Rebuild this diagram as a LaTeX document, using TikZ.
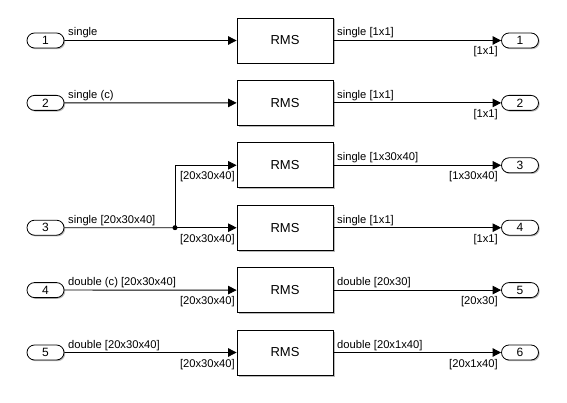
\documentclass[tikz,border=0pt]{standalone}
\usepackage{fontspec}
\setmainfont{Liberation Sans}
\usetikzlibrary{arrows.meta,shapes.misc,shadows}
\begin{document}
\begin{tikzpicture}[x=1pt,y=-1pt,
  blk/.style={draw,line width=0.8pt,fill=white,minimum width=96pt,minimum height=45pt,inner sep=0pt,
    font=\fontsize{13}{15}\selectfont,
    drop shadow={shadow xshift=1.5pt,shadow yshift=-1.5pt,fill=black!45,opacity=0.6}},
  port/.style={rounded rectangle,draw,line width=0.8pt,fill=white,minimum width=37pt,minimum height=15pt,inner sep=0pt,
    font=\fontsize{12}{14}\selectfont,
    drop shadow={shadow xshift=1.2pt,shadow yshift=-1.2pt,fill=black!45,opacity=0.6}},
  sig/.style={line width=0.8pt,-{Triangle[length=8.5pt,width=8.5pt]}},
  wire/.style={line width=0.8pt},
  lbl/.style={font=\fontsize{11.2}{13}\selectfont,inner sep=0pt}
]
\useasboundingbox (0,0) rectangle (567,403);
\fill[white] (0,0) rectangle (567,403);

% row centres
\def\ya{40.5}\def\yb{102.9}\def\yc{165.3}\def\yd{227.7}\def\ye{290.1}\def\yf{352.5}

% inports
\node[port] (i1) at (45.5,\ya) {1};
\node[port] (i2) at (45.5,\yb) {2};
\node[port] (i3) at (45.5,\yd) {3};
\node[port] (i4) at (45.5,\ye) {4};
\node[port] (i5) at (45.5,\yf) {5};

% blocks
\node[blk] (b1) at (285,\ya) {RMS};
\node[blk] (b2) at (285,\yb) {RMS};
\node[blk] (b3) at (285,\yc) {RMS};
\node[blk] (b4) at (285,\yd) {RMS};
\node[blk] (b5) at (285,\ye) {RMS};
\node[blk] (b6) at (285,\yf) {RMS};

% outports
\node[port] (o1) at (520,\ya) {1};
\node[port] (o2) at (520,\yb) {2};
\node[port] (o3) at (520,\yc) {3};
\node[port] (o4) at (520,\yd) {4};
\node[port] (o5) at (520,\ye) {5};
\node[port] (o6) at (520,\yf) {6};

% connectors
\draw[sig] (i1) -- (b1);
\draw[sig] (i2) -- (b2);
\coordinate (br) at (175,\yd);
\draw[wire] (i3) -- (br);
\draw[sig] (br) -- (b4);
\draw[sig] (br) |- (b3);
\fill (br) circle (2.5pt);
\draw[sig] (i4) -- (b5);
\draw[sig] (i5) -- (b6);
\foreach \k in {1,...,6}{\draw[sig] (b\k) -- (o\k);}

% labels: inport side
\node[lbl,anchor=base west] at (68,\ya-4.5) {single};
\node[lbl,anchor=base west] at (68,\yb-4.5) {single (c)};
\node[lbl,anchor=base west] at (68,\yd-4.5) {single [20x30x40]};
\node[lbl,anchor=base west] at (68,\ye-4.5) {double (c) [20x30x40]};
\node[lbl,anchor=base west] at (68,\yf-4.5) {double [20x30x40]};
% labels: block inputs
\node[lbl,anchor=base east] at (235,\yc+14.5) {[20x30x40]};
\node[lbl,anchor=base east] at (235,\yd+14.5) {[20x30x40]};
\node[lbl,anchor=base east] at (235,\ye+14.5) {[20x30x40]};
\node[lbl,anchor=base east] at (235,\yf+14.5) {[20x30x40]};
% labels: block outputs
\node[lbl,anchor=base west] at (337,\ya-4.5) {single [1x1]};
\node[lbl,anchor=base west] at (337,\yb-4.5) {single [1x1]};
\node[lbl,anchor=base west] at (337,\yc-4.5) {single [1x30x40]};
\node[lbl,anchor=base west] at (337,\yd-4.5) {single [1x1]};
\node[lbl,anchor=base west] at (337,\ye-4.5) {double [20x30]};
\node[lbl,anchor=base west] at (337,\yf-4.5) {double [20x1x40]};
% labels: outport inputs
\node[lbl,anchor=base east] at (498,\ya+14.5) {[1x1]};
\node[lbl,anchor=base east] at (498,\yb+14.5) {[1x1]};
\node[lbl,anchor=base east] at (498,\yc+14.5) {[1x30x40]};
\node[lbl,anchor=base east] at (498,\yd+14.5) {[1x1]};
\node[lbl,anchor=base east] at (498,\ye+14.5) {[20x30]};
\node[lbl,anchor=base east] at (498,\yf+14.5) {[20x1x40]};
\end{tikzpicture}
\end{document}
